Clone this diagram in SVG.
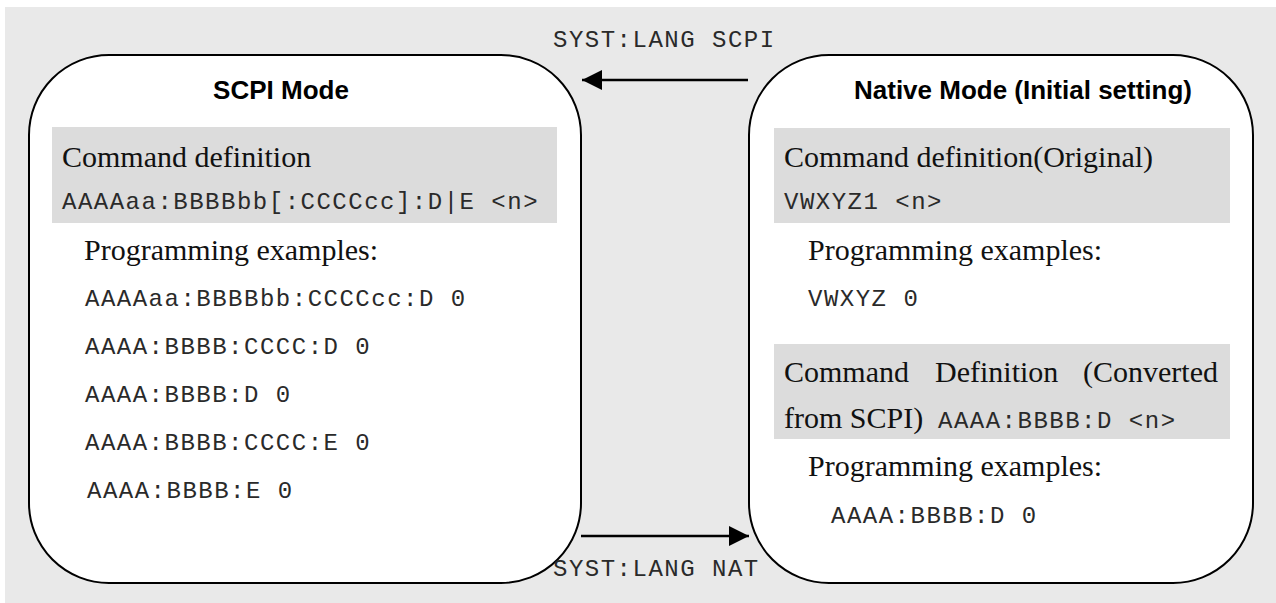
<svg xmlns="http://www.w3.org/2000/svg" width="1276" height="603" viewBox="0 0 1276 603">
  <defs>
    <style>
      .box { fill: #ffffff; stroke: #000000; stroke-width: 2; }
      .band { fill: #dcdcdc; }
      .title { font-family: "Liberation Sans", Arial, sans-serif; font-weight: bold; font-size: 26px; fill: #000000; }
      .serif { font-family: "Liberation Serif", "Times New Roman", serif; font-size: 30px; fill: #111111; }
      .mono { font-family: "Liberation Mono", "Courier New", monospace; font-size: 24px; letter-spacing: 1.5px; fill: #2a2a2a; }
      .conn { stroke: #000000; stroke-width: 2.5; fill: none; }
    </style>
    <marker id="arrowhead" viewBox="0 0 20 20" refX="20" refY="10" markerWidth="20" markerHeight="20" markerUnits="userSpaceOnUse" orient="auto">
      <path d="M0,0 L20,10 L0,20 Z" fill="#000000"/>
    </marker>
  </defs>

  <rect id="background" x="5" y="7" width="1271" height="596" fill="#e9e9e9"/>

  <g id="node-scpi">
    <rect class="box" x="29" y="55" width="552" height="528" rx="80" ry="80"/>
    <text class="title" x="281" y="99" text-anchor="middle">SCPI Mode</text>
    <rect class="band" x="52" y="127" width="505" height="96"/>
    <text class="serif" x="62" y="167">Command definition</text>
    <text class="mono" x="62" y="209">AAAAaa:BBBBbb[:CCCCcc]:D|E &lt;n&gt;</text>
    <text class="serif" x="84" y="260">Programming examples:</text>
    <text class="mono" x="85" y="306">AAAAaa:BBBBbb:CCCCcc:D 0</text>
    <text class="mono" x="85" y="354">AAAA:BBBB:CCCC:D 0</text>
    <text class="mono" x="85" y="402">AAAA:BBBB:D 0</text>
    <text class="mono" x="85" y="450">AAAA:BBBB:CCCC:E 0</text>
    <text class="mono" x="87" y="498">AAAA:BBBB:E 0</text>
  </g>

  <g id="node-native">
    <rect class="box" x="749" y="55" width="504" height="528" rx="80" ry="80"/>
    <text class="title" x="1023" y="99" text-anchor="middle">Native Mode (Initial setting)</text>
    <rect class="band" x="774" y="128" width="456" height="95"/>
    <text class="serif" x="784" y="167">Command definition(Original)</text>
    <text class="mono" x="784" y="209">VWXYZ1 &lt;n&gt;</text>
    <text class="serif" x="808" y="260">Programming examples:</text>
    <text class="mono" x="808" y="306">VWXYZ 0</text>
    <rect class="band" x="774" y="344" width="456" height="95"/>
    <text class="serif" y="382"><tspan x="784">Command</tspan><tspan x="935">Definition</tspan><tspan x="1083">(Converted</tspan></text>
    <text class="serif" x="784" y="428">from SCPI)</text>
    <text class="mono" x="938" y="428">AAAA:BBBB:D &lt;n&gt;</text>
    <text class="serif" x="808" y="476">Programming examples:</text>
    <text class="mono" x="831" y="523">AAAA:BBBB:D 0</text>
  </g>

  <g id="connectors">
    <line class="conn" x1="748" y1="80" x2="582" y2="80" marker-end="url(#arrowhead)"/>
    <line class="conn" x1="581" y1="536" x2="749" y2="536" marker-end="url(#arrowhead)"/>
    <text class="mono" x="553" y="47">SYST:LANG SCPI</text>
    <text class="mono" x="553" y="576">SYST:LANG NAT</text>
  </g>
</svg>
